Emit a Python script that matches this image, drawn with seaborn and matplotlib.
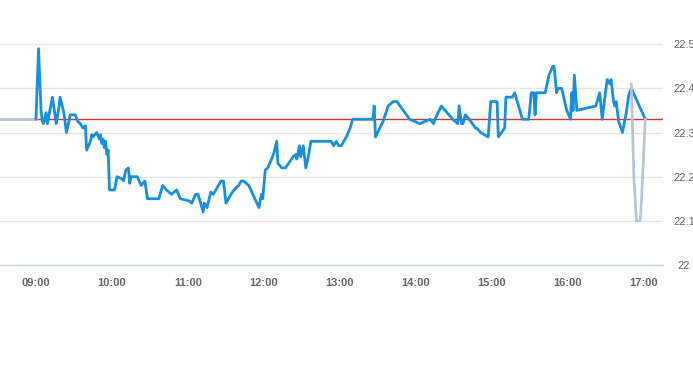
import pandas as pd
import matplotlib
matplotlib.use("Agg")
import matplotlib.pyplot as plt
import matplotlib.dates as mdates
import seaborn as sns

# intraday prices (blue line)
times = ["09:00", "09:02", "09:04", "09:05", "09:06", "09:08", "09:09", "09:10", "09:13", "09:14",
         "09:16", "09:18", "09:19", "09:22", "09:24", "09:26", "09:27", "09:31", "09:33", "09:35",
         "09:37", "09:39", "09:40", "09:43", "09:44", "09:45", "09:48", "09:50", "09:51", "09:52",
         "09:53", "09:54", "09:55", "09:56", "09:57", "09:58", "10:02", "10:04", "10:08", "10:09",
         "10:11", "10:13", "10:14", "10:15", "10:20", "10:23", "10:26", "10:28", "10:37", "10:40",
         "10:43", "10:47", "10:51", "10:54", "11:01", "11:03", "11:06", "11:08", "11:12", "11:13",
         "11:15", "11:18", "11:20", "11:23", "11:26", "11:28", "11:30", "11:35", "11:38", "11:40",
         "11:42", "11:44", "11:48", "11:56", "11:58", "11:59", "12:01", "12:03", "12:06", "12:08",
         "12:10", "12:11", "12:14", "12:17", "12:23", "12:25", "12:26", "12:28", "12:29", "12:31",
         "12:33", "12:35", "12:37", "12:38", "12:53", "12:55", "12:57", "12:59", "13:01", "13:05",
         "13:08", "13:10", "13:26", "13:27", "13:28", "13:34", "13:38", "13:42", "13:45", "13:55",
         "14:03", "14:11", "14:14", "14:15", "14:20", "14:29", "14:33", "14:34", "14:36", "14:37",
         "14:39", "14:42", "14:47", "14:48", "14:51", "14:57", "14:59", "15:04", "15:05", "15:10",
         "15:11", "15:16", "15:18", "15:24", "15:29", "15:31", "15:33", "15:34", "15:35", "15:42",
         "15:45", "15:48", "15:49", "15:51", "15:52", "15:55", "15:59", "16:02", "16:03", "16:04",
         "16:05", "16:07", "16:22", "16:25", "16:27", "16:30", "16:31", "16:33", "16:34", "16:36",
         "16:37", "16:38", "16:40", "16:43", "16:46", "16:48", "16:50", "17:01"]
prices = [22.33, 22.49, 22.35, 22.325, 22.32, 22.345, 22.32, 22.335, 22.38, 22.36,
          22.32, 22.355, 22.38, 22.345, 22.30, 22.325, 22.34, 22.34, 22.325, 22.32,
          22.31, 22.315, 22.26, 22.28, 22.295, 22.29, 22.30, 22.285, 22.295, 22.275,
          22.285, 22.265, 22.28, 22.25, 22.26, 22.17, 22.17, 22.20, 22.195, 22.19,
          22.215, 22.22, 22.185, 22.20, 22.20, 22.18, 22.19, 22.15, 22.15, 22.18,
          22.17, 22.16, 22.17, 22.15, 22.145, 22.14, 22.16, 22.16, 22.12, 22.14,
          22.13, 22.165, 22.16, 22.175, 22.19, 22.19, 22.14, 22.165, 22.175, 22.18,
          22.19, 22.19, 22.18, 22.13, 22.16, 22.15, 22.215, 22.22, 22.24, 22.255,
          22.28, 22.23, 22.22, 22.22, 22.245, 22.25, 22.24, 22.27, 22.245, 22.27,
          22.22, 22.245, 22.28, 22.28, 22.28, 22.27, 22.28, 22.27, 22.27, 22.29,
          22.31, 22.33, 22.33, 22.36, 22.29, 22.325, 22.36, 22.37, 22.37, 22.33,
          22.32, 22.33, 22.32, 22.33, 22.36, 22.33, 22.32, 22.36, 22.32, 22.32,
          22.34, 22.33, 22.31, 22.31, 22.30, 22.29, 22.37, 22.37, 22.29, 22.31,
          22.38, 22.38, 22.39, 22.33, 22.33, 22.39, 22.39, 22.34, 22.39, 22.39,
          22.43, 22.45, 22.45, 22.39, 22.40, 22.40, 22.35, 22.33, 22.39, 22.35,
          22.43, 22.35, 22.36, 22.39, 22.33, 22.40, 22.42, 22.41, 22.42, 22.37,
          22.36, 22.37, 22.325, 22.30, 22.345, 22.385, 22.40, 22.33]

# grey segments (before open / after close)
pre_times = ["08:30", "09:00"]
pre_prices = [22.33, 22.33]
post_times = ["16:50", "16:52", "16:54", "16:57", "16:58", "17:01"]
post_prices = [22.41, 22.20, 22.10, 22.10, 22.145, 22.33]

prev_close = 22.33
y_ticks = [22.0, 22.1, 22.2, 22.3, 22.4, 22.5]
y_labels = ["22", "22.1", "22.2", "22.3", "22.4", "22.5"]
x_ticks = ["09:00", "10:00", "11:00", "12:00", "13:00", "14:00", "15:00", "16:00", "17:00"]


def to_dt(lst):
    return pd.to_datetime(["2024-01-02 " + t for t in lst])


df = pd.DataFrame({"time": to_dt(times), "price": prices})
pre = pd.DataFrame({"time": to_dt(pre_times), "price": pre_prices})
post = pd.DataFrame({"time": to_dt(post_times), "price": post_prices})

sns.set_style("white")
plt.rcParams["font.family"] = ["Liberation Sans", "DejaVu Sans"]

fig = plt.figure(figsize=(6.93, 3.65), dpi=100)
ax = fig.add_axes([0, 1 - 265 / 365, 663 / 693, 265 / 365])

ax.axhline(prev_close, color="#d4342e", lw=1, zorder=2)
sns.lineplot(data=pre, x="time", y="price", ax=ax, color="#b8c6d3", lw=2, estimator=None, zorder=3)
sns.lineplot(data=df, x="time", y="price", ax=ax, color="#178fdc", lw=2, estimator=None, zorder=4)
sns.lineplot(data=post, x="time", y="price", ax=ax, color="#b8c6d3", lw=2, estimator=None, zorder=5)

ax.set_xlim(pd.Timestamp("2024-01-02 08:31:36"), pd.Timestamp("2024-01-02 17:15:00"))
ax.set_ylim(22.0, 22.6)

ax.set_xticks(to_dt(x_ticks))
ax.xaxis.set_major_formatter(mdates.DateFormatter("%H:%M"))
ax.set_yticks(y_ticks)
ax.set_yticklabels(y_labels)
ax.yaxis.tick_right()
for lab in ax.get_yticklabels():
    lab.set_horizontalalignment("center")

ax.tick_params(axis="x", length=5, width=1, color="#ccd6eb", pad=4,
               labelsize=8, labelcolor="#666666")
ax.tick_params(axis="y", length=0, pad=15, labelsize=8, labelcolor="#666666")
for lab in ax.get_xticklabels():
    lab.set_fontweight("bold")

ax.grid(axis="y", color="#e6e6e6", lw=1)
ax.grid(axis="x", visible=False)
for s in ["top", "left", "right"]:
    ax.spines[s].set_visible(False)
ax.spines["bottom"].set_color("#ccd6eb")
ax.spines["bottom"].set_linewidth(1)
ax.set_xlabel("")
ax.set_ylabel("")

fig.savefig("out.png", dpi=100)
